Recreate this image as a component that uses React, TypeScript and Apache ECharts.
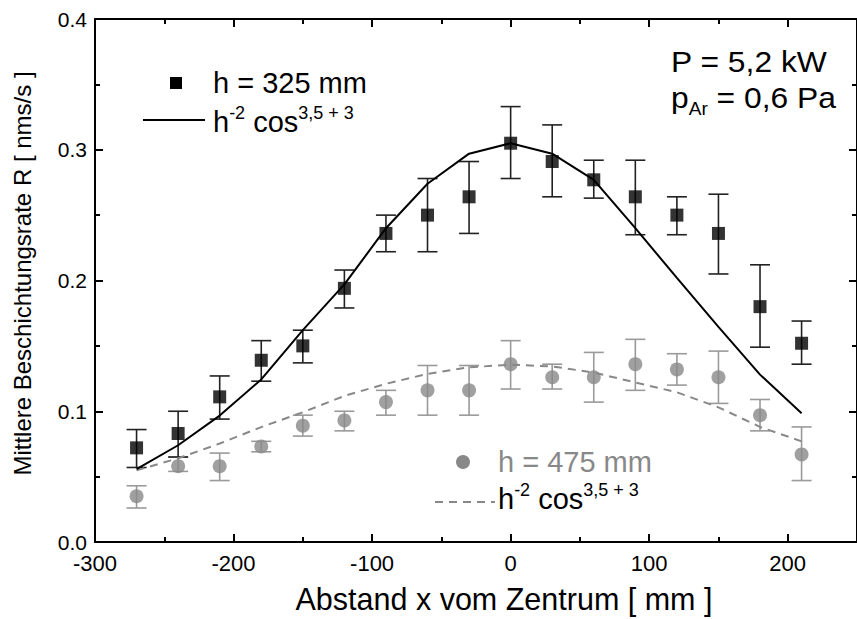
import React, { useEffect, useRef } from "react";
import * as echarts from "echarts";

const xs = [-270, -240, -210, -180, -150, -120, -90, -60, -30, 0, 30, 60, 90, 120, 150, 180, 210];

const r325 = [0.072, 0.083, 0.111, 0.139, 0.150, 0.194, 0.236, 0.250, 0.264, 0.305, 0.291, 0.277, 0.264, 0.250, 0.236, 0.180, 0.152];
const r325Lo = [0.057, 0.065, 0.094, 0.123, 0.137, 0.179, 0.222, 0.222, 0.236, 0.278, 0.264, 0.263, 0.235, 0.235, 0.205, 0.149, 0.136];
const r325Hi = [0.086, 0.100, 0.127, 0.154, 0.162, 0.208, 0.250, 0.278, 0.291, 0.333, 0.319, 0.292, 0.292, 0.264, 0.266, 0.212, 0.169];

const r475 = [0.035, 0.058, 0.058, 0.073, 0.089, 0.093, 0.107, 0.116, 0.116, 0.136, 0.126, 0.126, 0.136, 0.132, 0.126, 0.097, 0.067];
const r475Lo = [0.026, 0.054, 0.047, 0.069, 0.081, 0.085, 0.097, 0.097, 0.097, 0.117, 0.117, 0.107, 0.116, 0.120, 0.106, 0.085, 0.047];
const r475Hi = [0.043, 0.065, 0.068, 0.077, 0.097, 0.100, 0.116, 0.135, 0.135, 0.154, 0.136, 0.145, 0.155, 0.144, 0.146, 0.109, 0.088];

const fit325 = [0.0557, 0.074, 0.0967, 0.1243, 0.162, 0.197, 0.240, 0.274, 0.297, 0.305, 0.297, 0.277, 0.240, 0.202, 0.1645, 0.128, 0.0985];
const fit475 = [0.0548, 0.064, 0.0753, 0.0879, 0.0992, 0.1117, 0.121, 0.1286, 0.1336, 0.1356, 0.1343, 0.1296, 0.122, 0.1145, 0.103, 0.088, 0.077];

const xTicks = [-300, -200, -100, 0, 100, 200];
const yTicks = [0.0, 0.1, 0.2, 0.3, 0.4];

const FONT = "Liberation Sans, Arial, sans-serif";
const GREY = "#888888";
const GREY_BAR = "#9a9a9a";

function errorSeries(lo: number[], hi: number[], color: string) {
  return {
    type: "custom",
    xAxisIndex: 0,
    yAxisIndex: 0,
    z: 2,
    data: xs.map((x, i) => [x, lo[i], hi[i]]),
    encode: { x: 0, y: [1, 2] },
    renderItem: (params: any, api: any) => {
      const x = api.value(0);
      const pLo = api.coord([x, api.value(1)]);
      const pHi = api.coord([x, api.value(2)]);
      const hw = 10;
      const style = { stroke: color, lineWidth: 1.6 };
      return {
        type: "group",
        children: [
          { type: "line", shape: { x1: pLo[0], y1: pLo[1], x2: pHi[0], y2: pHi[1] }, style },
          { type: "line", shape: { x1: pLo[0] - hw, y1: pLo[1], x2: pLo[0] + hw, y2: pLo[1] }, style },
          { type: "line", shape: { x1: pHi[0] - hw, y1: pHi[1], x2: pHi[0] + hw, y2: pHi[1] }, style },
        ],
      };
    },
  };
}

function xAxisDef(position: string, interval: number, len: number, labels: boolean, line: boolean) {
  return {
    type: "value",
    position,
    min: -300,
    max: 250,
    interval,
    splitLine: { show: false },
    axisLine: { show: line, onZero: false, lineStyle: { color: "#000", width: 2 } },
    axisTick: { show: true, inside: true, length: len, lineStyle: { color: "#000", width: 2 } },
    axisLabel: labels
      ? {
          show: true,
          showMaxLabel: false,
          margin: 12,
          lineHeight: 18,
          color: "#000",
          fontSize: 22,
          fontFamily: FONT,
          formatter: (v: number) => (xTicks.includes(v) ? String(v) : ""),
        }
      : { show: false },
    ...(labels
      ? {
          name: "Abstand x vom Zentrum [ mm ]",
          nameLocation: "middle",
          nameGap: 41,
          nameTextStyle: { color: "#000", fontSize: 30.5, fontFamily: FONT, padding: [0, 0, 0, 56] },
        }
      : {}),
  };
}

function yAxisDef(position: string, interval: number, len: number, labels: boolean, line: boolean) {
  return {
    type: "value",
    position,
    min: 0,
    max: 0.4,
    interval,
    splitLine: { show: false },
    axisLine: { show: line, onZero: false, lineStyle: { color: "#000", width: 2 } },
    axisTick: { show: true, inside: true, length: len, lineStyle: { color: "#000", width: 2 } },
    axisLabel: labels
      ? {
          show: true,
          margin: 8,
          lineHeight: 18,
          color: "#000",
          fontSize: 21,
          fontFamily: FONT,
          formatter: (v: number) => {
            const m = yTicks.find((t) => Math.abs(t - v) < 1e-9);
            return m === undefined ? "" : m.toFixed(1);
          },
        }
      : { show: false },
    ...(labels
      ? {
          name: "Mittlere Beschichtungsrate R [ nms/s ]",
          nameLocation: "middle",
          nameGap: 61,
          nameTextStyle: { color: "#000", fontSize: 24, fontFamily: FONT, padding: [0, 0, 0, 14] },
        }
      : {}),
  };
}

const supRich = (color: string) => ({
  a: { fontSize: 29, fontFamily: FONT, color, lineHeight: 36, verticalAlign: "middle" },
  s: { fontSize: 18, fontFamily: FONT, color, lineHeight: 18, verticalAlign: "top" },
});

export default function App() {
  const ref = useRef<HTMLDivElement>(null);
  useEffect(() => {
    if (!ref.current) return;
    const chart = echarts.init(ref.current, null, { renderer: "svg" });
    chart.setOption({
      animation: false,
      backgroundColor: "#fff",
      grid: { left: 95, top: 19, width: 763, height: 531, containLabel: false },
      xAxis: [
        xAxisDef("bottom", 100, 8, true, true),
        xAxisDef("bottom", 50, 5, false, false),
        xAxisDef("top", 100, 8, false, true),
        xAxisDef("top", 50, 5, false, false),
      ],
      yAxis: [
        yAxisDef("left", 0.1, 8, true, true),
        yAxisDef("left", 0.05, 5, false, false),
        yAxisDef("right", 0.1, 8, false, true),
        yAxisDef("right", 0.05, 5, false, false),
      ],
      series: [
        errorSeries(r475Lo, r475Hi, GREY_BAR),
        errorSeries(r325Lo, r325Hi, "#222"),
        {
          type: "line",
          data: xs.map((x, i) => [x, fit475[i]]),
          symbol: "none",
          z: 3,
          lineStyle: { color: GREY, width: 2, type: [8, 6] },
        },
        {
          type: "line",
          data: xs.map((x, i) => [x, fit325[i]]),
          symbol: "none",
          z: 3,
          lineStyle: { color: "#000", width: 2 },
        },
        {
          type: "scatter",
          data: xs.map((x, i) => [x, r475[i]]),
          symbol: "circle",
          symbolSize: 14,
          z: 4,
          itemStyle: { color: GREY },
        },
        {
          type: "scatter",
          data: xs.map((x, i) => [x, r325[i]]),
          symbol: "rect",
          symbolSize: 13,
          z: 5,
          itemStyle: { color: "#000" },
        },
      ],
      graphic: [
        { type: "rect", shape: { x: 170, y: 77, width: 12, height: 12 }, style: { fill: "#000" } },
        {
          type: "text",
          x: 213,
          y: 83,
          style: { text: "h = 325 mm", fontSize: 29, fontFamily: FONT, fill: "#000", verticalAlign: "middle" },
        },
        { type: "line", shape: { x1: 143, y1: 120, x2: 205, y2: 120 }, style: { stroke: "#000", lineWidth: 2 } },
        {
          type: "text",
          x: 213,
          y: 104,
          style: {
            text: "{a|h}{s|-2}{a| cos}{s|3,5 + 3}",
            rich: supRich("#000"),
            verticalAlign: "top",
          },
        },
        { type: "circle", shape: { cx: 463, cy: 462, r: 7 }, style: { fill: GREY } },
        {
          type: "text",
          x: 498,
          y: 462,
          style: { text: "h = 475 mm", fontSize: 29, fontFamily: FONT, fill: GREY, verticalAlign: "middle" },
        },
        {
          type: "line",
          shape: { x1: 435, y1: 502, x2: 495, y2: 502 },
          style: { stroke: GREY, lineWidth: 2, lineDash: [8, 6] },
        },
        {
          type: "text",
          x: 498,
          y: 481,
          style: {
            text: "{a|h}{s|-2}{a| cos}{s|3,5 + 3}",
            rich: supRich(GREY),
            verticalAlign: "top",
          },
        },
        {
          type: "text",
          x: 671,
          y: 62,
          scaleX: 1.06,
          style: { text: "P = 5,2 kW", fontSize: 30, fontFamily: FONT, fill: "#000", verticalAlign: "middle" },
        },
        {
          type: "text",
          x: 671,
          y: 78,
          scaleX: 1.06,
          style: {
            text: "{a|p}{b|Ar}{a| = 0,6 Pa}",
            verticalAlign: "top",
            rich: {
              a: { fontSize: 30, fontFamily: FONT, color: "#000", lineHeight: 40, verticalAlign: "middle" },
              b: { fontSize: 18, fontFamily: FONT, color: "#000", lineHeight: 16, verticalAlign: "bottom" },
            },
          },
        },
      ],
    });
    return () => chart.dispose();
  }, []);
  return <div ref={ref} style={{ position: "absolute", left: 0, top: 0, width: 857, height: 619 }} />;
}
